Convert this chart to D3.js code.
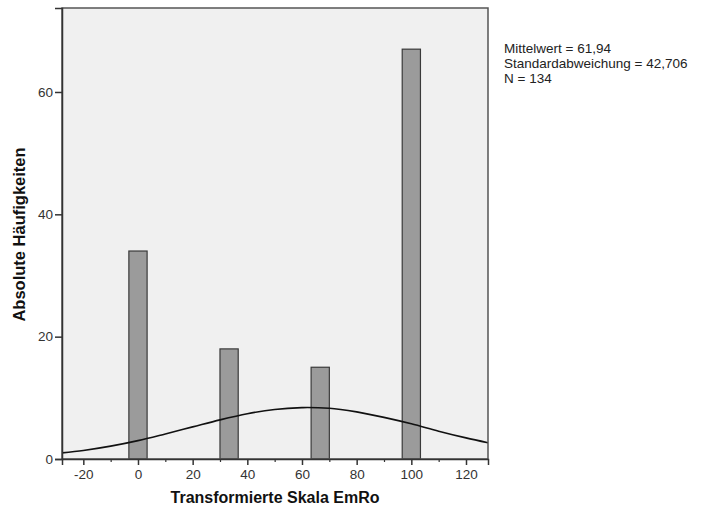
<!DOCTYPE html>
<html>
<head>
<meta charset="utf-8">
<script src="https://cdn.jsdelivr.net/npm/d3@7"></script>
<style>
  html, body { margin: 0; padding: 0; background: #ffffff; }
  svg { display: block; }
  text { font-family: "Liberation Sans", Arial, sans-serif; }
</style>
</head>
<body>
<svg id="chart" width="723" height="508"></svg>
<script>
// ---- data ----
const binCenters = [0, 33.33, 66.67, 100];
const binCounts = [34, 18, 15, 67];
const binWidth = 6.67;
const xTicks = [-20, 0, 20, 40, 60, 80, 100, 120];
const xMinorTicks = [-10, 10, 30, 50, 70, 90, 110];
const yTicks = [0, 20, 40, 60];
// normal curve
const curveX = [-28, -20, -10, 0, 10, 20, 30, 40, 50, 60, 62, 70, 80, 90, 100, 110, 120, 128.1];
const curveY = [1.0, 1.4, 2.1, 3.0, 4.1, 5.25, 6.4, 7.4, 8.1, 8.4, 8.42, 8.3, 7.7, 6.8, 5.75, 4.55, 3.45, 2.65];
const statsLines = ["Mittelwert = 61,94", "Standardabweichung = 42,706", "N = 134"];
const xTitle = "Transformierte Skala EmRo";
const yTitle = "Absolute Häufigkeiten";

// ---- layout ----
const svg = d3.select("#chart");
const plot = { left: 62, top: 8, right: 488, bottom: 459 };

const x = d3.scaleLinear().domain([-27.8, 128.05]).range([plot.left, plot.right]);
const y = d3.scaleLinear().domain([0, 73.73]).range([plot.bottom, plot.top]);

svg.append("defs").append("clipPath").attr("id", "clip")
  .append("rect")
  .attr("x", plot.left).attr("y", plot.top)
  .attr("width", plot.right - plot.left).attr("height", plot.bottom - plot.top);

// background
svg.append("rect")
  .attr("x", plot.left).attr("y", plot.top)
  .attr("width", plot.right - plot.left).attr("height", plot.bottom - plot.top)
  .attr("fill", "#f0f0f0");

// bars
const bars = binCenters.map((c, i) => ({ c, n: binCounts[i] }));
svg.append("g").selectAll("rect")
  .data(bars)
  .join("rect")
  .attr("x", d => x(d.c - binWidth / 2))
  .attr("width", d => x(d.c + binWidth / 2) - x(d.c - binWidth / 2))
  .attr("y", d => y(d.n))
  .attr("height", d => y(0) - y(d.n))
  .attr("fill", "#9b9b9b")
  .attr("stroke", "#3a3a3a")
  .attr("stroke-width", 1.2);

// normal curve
const pts = curveX.map((v, i) => [v, curveY[i]]);
svg.append("path")
  .attr("clip-path", "url(#clip)")
  .attr("d", d3.line().x(d => x(d[0])).y(d => y(d[1])).curve(d3.curveMonotoneX)(pts))
  .attr("fill", "none")
  .attr("stroke", "#111")
  .attr("stroke-width", 1.6);

// frame
svg.append("rect")
  .attr("x", plot.left).attr("y", plot.top)
  .attr("width", plot.right - plot.left).attr("height", plot.bottom - plot.top)
  .attr("fill", "none")
  .attr("stroke", "#555")
  .attr("stroke-width", 1.5);

const fmt = d => String(d);

// x axis
const xAxis = svg.append("g").attr("transform", `translate(0,${plot.bottom})`)
  .call(d3.axisBottom(x).tickValues(xTicks).tickSize(6).tickPadding(4).tickFormat(fmt));
xAxis.select(".domain").attr("stroke", "#333").attr("stroke-width", 1.5);
xAxis.selectAll(".tick line").attr("stroke", "#333").attr("stroke-width", 1.5);
xAxis.selectAll(".tick text").attr("font-size", 13.5).attr("fill", "#333")
  .attr("font-family", "Liberation Sans, Arial, sans-serif");

const xMinor = svg.append("g").attr("transform", `translate(0,${plot.bottom})`)
  .call(d3.axisBottom(x).tickValues(xMinorTicks).tickSize(3).tickFormat(""));
xMinor.select(".domain").remove();
xMinor.selectAll(".tick line").attr("stroke", "#333").attr("stroke-width", 1.2);

// y axis
const yAxis = svg.append("g").attr("transform", `translate(${plot.left},0)`)
  .call(d3.axisLeft(y).tickValues(yTicks).tickSize(7).tickPadding(2).tickFormat(fmt));
yAxis.select(".domain").attr("stroke", "#333").attr("stroke-width", 1.5);
yAxis.selectAll(".tick line").attr("stroke", "#333").attr("stroke-width", 1.5);
yAxis.selectAll(".tick text").attr("font-size", 13.5).attr("fill", "#333")
  .attr("font-family", "Liberation Sans, Arial, sans-serif");

// axis titles
svg.append("text")
  .attr("x", (plot.left + plot.right) / 2).attr("y", 503)
  .attr("text-anchor", "middle")
  .attr("font-size", 16).attr("font-weight", "bold").attr("fill", "#111")
  .text(xTitle);

svg.append("text")
  .attr("transform", `translate(25,${(plot.top + plot.bottom) / 2 + 1}) rotate(-90)`)
  .attr("text-anchor", "middle")
  .attr("font-size", 16.5).attr("font-weight", "bold").attr("fill", "#111")
  .text(yTitle);

// stats
svg.append("g").selectAll("text")
  .data(statsLines)
  .join("text")
  .attr("x", 504)
  .attr("y", (d, i) => 53 + i * 15)
  .attr("font-size", 13.5).attr("fill", "#222")
  .text(d => d);
</script>
</body>
</html>
